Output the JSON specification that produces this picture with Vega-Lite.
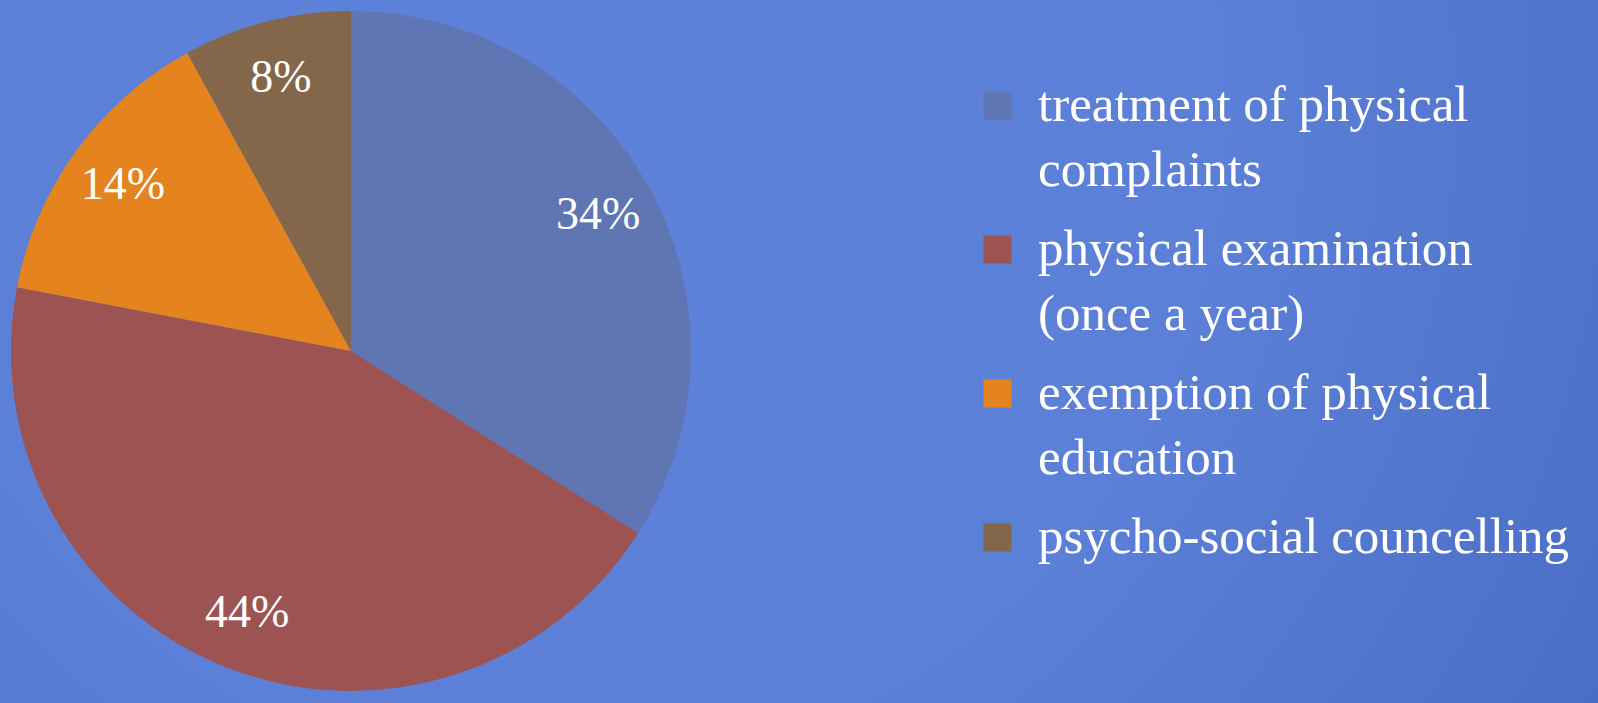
{
  "$schema": "https://vega.github.io/schema/vega-lite/v6.json",
  "width": 1598,
  "height": 703,
  "autosize": "none",
  "padding": 0,
  "background": "#5a7ed6",
  "data": {
    "values": [
      {"category": "treatment of physical complaints", "pct": 34, "label": "34%", "order": 1},
      {"category": "physical examination (once a year)", "pct": 44, "label": "44%", "order": 2},
      {"category": "exemption of physical education", "pct": 14, "label": "14%", "order": 3},
      {"category": "psycho-social councelling", "pct": 8, "label": "8%", "order": 4}
    ]
  },
  "encoding": {
    "theta": {"field": "pct", "type": "quantitative", "stack": true},
    "order": {"field": "order", "type": "ordinal"},
    "x": {"value": 351},
    "y": {"value": 351}
  },
  "layer": [
    {
      "mark": {"type": "arc", "radius": 340},
      "encoding": {
        "color": {
          "field": "category",
          "type": "nominal",
          "scale": {
            "domain": ["treatment of physical complaints", "physical examination (once a year)", "exemption of physical education", "psycho-social councelling"],
            "range": ["#6075b3", "#9e5353", "#e5841f", "#84674a"]
          },
          "legend": {
            "orient": "none",
            "legendX": 972,
            "legendY": 80,
            "padding": 0,
            "title": null,
            "labelFont": "Liberation Serif",
            "labelFontSize": 51,
            "labelColor": "white",
            "labelLimit": 0,
            "labelOffset": 15,
            "symbolType": "square",
            "symbolSize": 784,
            "symbolStrokeWidth": 0,
            "symbolOpacity": 1,
            "rowPadding": 27,
            "labelExpr": "datum.label == 'treatment of physical complaints' ? ['treatment of physical', 'complaints'] : datum.label == 'physical examination (once a year)' ? ['physical examination', '(once a year)'] : datum.label == 'exemption of physical education' ? ['exemption of physical', 'education'] : datum.label"
          }
        }
      }
    },
    {
      "mark": {"type": "text", "radius": 282, "fontSize": 46, "font": "Liberation Serif", "color": "white"},
      "encoding": {
        "text": {"field": "label"},
        "detail": {"field": "category"}
      }
    }
  ],
  "config": {
    "view": {
      "stroke": null,
      "fill": {
        "gradient": "radial",
        "x1": 0.35, "y1": 0.35, "r1": 0,
        "x2": 0.35, "y2": 0.35, "r2": 0.92,
        "stops": [
          {"offset": 0, "color": "#5e82d9"},
          {"offset": 0.45, "color": "#5c80d7"},
          {"offset": 0.8, "color": "#4b6fc7"},
          {"offset": 1, "color": "#2c55b5"}
        ]
      }
    },
    "style": {"guide-label": {"lineHeight": 65}}
  }
}
